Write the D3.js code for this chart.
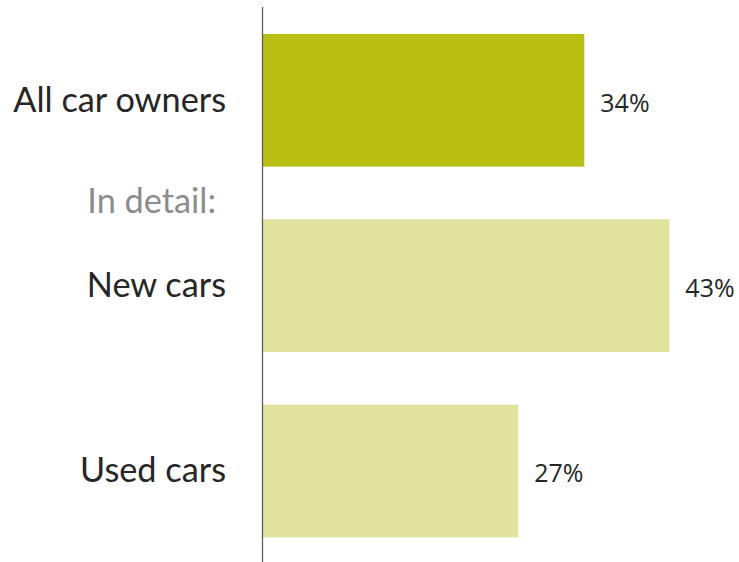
<!DOCTYPE html>
<html>
<head>
<meta charset="utf-8">
<script src="https://cdn.jsdelivr.net/npm/d3@7"></script>
<style>
  html, body { margin: 0; padding: 0; background: #fff; }
  svg { display: block; }
</style>
</head>
<body>
<script>
// Share of car owners, overall and split by new / used cars
const categories = ["All car owners", "New cars", "Used cars"];
const values = [34, 43, 27];
const valueLabels = ["34%", "43%", "27%"];
const barKinds = ["total", "detail", "detail"];
const subheading = "In detail:";

const W = 739, H = 562;
const colors = { total: "#b9c013", detail: "#e0e39d" };

const svg = d3.select("body").append("svg")
  .attr("width", W).attr("height", H);

const x = d3.scaleLinear().domain([0, 50]).range([263, 735.5]);
const y = d3.scaleBand().domain(categories)
  .range([34, 537.3]).paddingInner(0.284).paddingOuter(0);

const labelFont = "Lato, 'Open Sans', sans-serif";
const valueFont = "'Open Sans', 'Noto Sans', sans-serif";

// Bars
svg.append("g").selectAll("rect")
  .data(categories)
  .join("rect")
  .attr("x", x(0))
  .attr("y", d => y(d))
  .attr("width", (d, i) => x(values[i]) - x(0))
  .attr("height", y.bandwidth())
  .attr("fill", (d, i) => colors[barKinds[i]]);

// Vertical axis line
svg.append("line")
  .attr("x1", 262.5).attr("x2", 262.5)
  .attr("y1", 7).attr("y2", H)
  .attr("stroke", "#5f5f5f").attr("stroke-width", 1.3);

// Category labels
svg.append("g").selectAll("text")
  .data(categories)
  .join("text")
  .attr("x", 226)
  .attr("y", d => y(d) + y.bandwidth() / 2 + 11.5)
  .attr("text-anchor", "end")
  .attr("font-family", labelFont)
  .attr("font-size", 34.3)
  .attr("fill", "#262626")
  .text(d => d);

// Sub-heading between the total and the breakdown
svg.append("text")
  .attr("x", 216)
  .attr("y", 213)
  .attr("text-anchor", "end")
  .attr("font-family", labelFont)
  .attr("font-size", 34.3)
  .attr("fill", "#8a8c8e")
  .text(subheading);

// Value labels
svg.append("g").selectAll("text")
  .data(categories)
  .join("text")
  .attr("x", (d, i) => x(values[i]) + 16)
  .attr("y", d => y(d) + y.bandwidth() / 2 + 11.5)
  .attr("font-family", valueFont)
  .attr("font-size", 25)
  .attr("fill", "#262626")
  .text((d, i) => valueLabels[i]);
</script>
</body>
</html>
